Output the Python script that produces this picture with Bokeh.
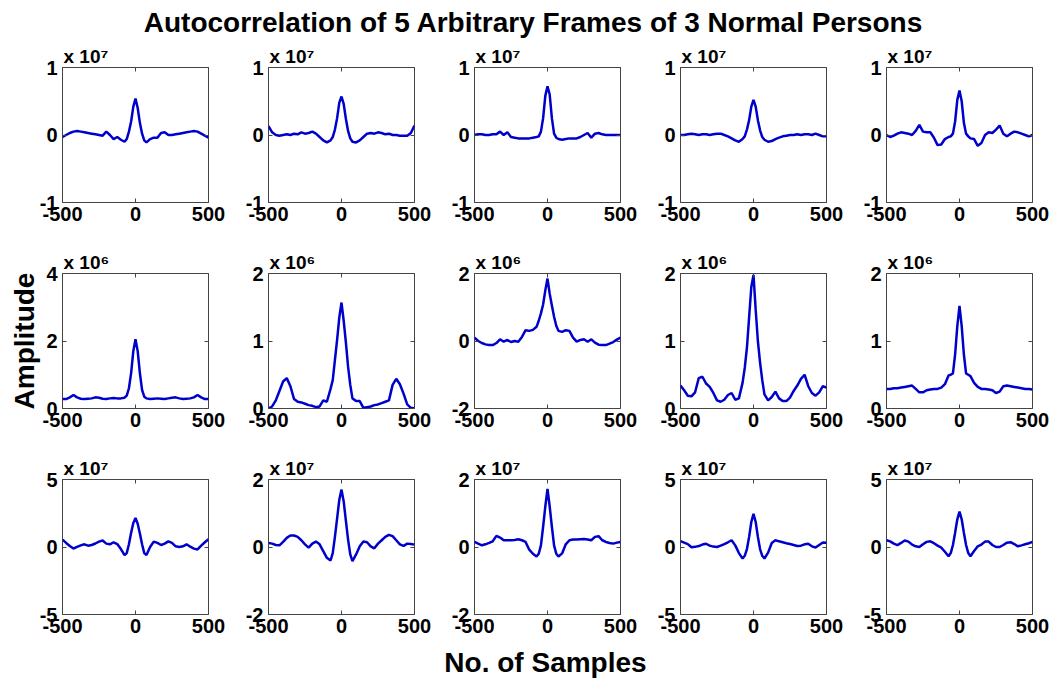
import math
from bokeh.plotting import figure
from bokeh.layouts import column, row
from bokeh.models import Label, LinearAxis, FixedTicker, Range1d, Title
from bokeh.embed import file_html
from bokeh.resources import INLINE

FONT = "Liberation Sans"
LINE_COLOR = "#0000cc"
FRAME_COLOR = "#444444"

title_text = "Autocorrelation of 5 Arbitrary Frames of 3 Normal Persons"
x_title = "No. of Samples"
y_title = "Amplitude"

# lag axis shared by all frames
lags = [-500, -475, -450, -425, -400, -375, -350, -325, -300, -275, -250, -225, -200, -175, -150, -125, -100,
        -75, -60, -45, -30, -15, 0, 15, 30, 45, 60, 75,
        100, 125, 150, 175, 200, 225, 250, 275, 300, 325, 350, 375, 400, 425, 450, 475, 500]
x_ticks = [-500, 0, 500]

row_exponents = ["7", "6", "7"]
y_limits_row1 = [(-1, 1), (-1, 1), (-1, 1), (-1, 1), (-1, 1)]
y_limits_row2 = [(0, 4), (0, 2), (-2, 2), (0, 2), (0, 2)]
y_limits_row3 = [(-5, 5), (-2, 2), (-2, 2), (-5, 5), (-5, 5)]

# values in units of 10^exponent of their row
r1c1 = [-0.03, 0.00, 0.03, 0.05, 0.06, 0.05, 0.04, 0.03, 0.02, 0.01, 0.00, -0.01, 0.05, 0.00, -0.06, -0.03, -0.07,
        -0.10, -0.06, 0.05, 0.20, 0.42, 0.54, 0.40, 0.18, 0.02, -0.08, -0.11,
        -0.06, -0.04, -0.04, 0.03, 0.04, 0.00, 0.00, 0.01, 0.02, 0.03, 0.04, 0.05, 0.06, 0.05, 0.02, -0.01, -0.04]
r1c2 = [0.13, 0.04, 0.00, -0.01, 0.00, 0.01, 0.00, 0.02, 0.01, 0.04, 0.02, 0.03, 0.05, 0.02, -0.03, -0.08, -0.11,
        -0.08, -0.03, 0.08, 0.25, 0.48, 0.57, 0.46, 0.24, 0.06, -0.05, -0.10,
        -0.11, -0.08, -0.03, 0.02, 0.03, 0.02, 0.04, 0.03, 0.01, 0.02, 0.00, 0.00, -0.01, -0.01, -0.01, 0.03, 0.14]
r1c3 = [0.00, 0.01, 0.01, 0.00, 0.00, 0.01, 0.01, 0.05, 0.00, 0.04, -0.03, -0.04, -0.05, -0.05, -0.05, -0.05, -0.04,
        -0.03, -0.02, 0.05, 0.25, 0.58, 0.72, 0.60, 0.25, 0.02, -0.04, -0.06,
        -0.07, -0.06, -0.05, -0.05, -0.05, -0.03, 0.00, 0.03, -0.04, 0.02, 0.03, 0.01, 0.00, 0.00, 0.00, 0.00, 0.00]
r1c4 = [0.00, 0.00, 0.01, 0.02, 0.01, 0.00, 0.01, 0.01, 0.00, 0.01, 0.02, 0.02, 0.00, -0.02, -0.05, -0.08, -0.10,
        -0.06, -0.02, 0.08, 0.22, 0.42, 0.52, 0.42, 0.22, 0.07, -0.03, -0.07,
        -0.10, -0.09, -0.06, -0.04, -0.02, -0.01, 0.00, 0.00, 0.01, 0.00, 0.01, 0.01, 0.00, 0.02, 0.00, -0.02, -0.02]
r1c5 = [0.00, -0.03, -0.01, 0.02, 0.04, 0.03, 0.02, 0.00, 0.06, 0.15, 0.05, 0.04, 0.04, -0.04, -0.15, -0.14, -0.06,
        -0.03, -0.02, 0.02, 0.20, 0.52, 0.66, 0.50, 0.18, 0.02, -0.02, -0.05,
        -0.06, -0.16, -0.12, 0.00, 0.04, 0.03, 0.08, 0.14, 0.02, -0.02, 0.02, 0.05, 0.04, 0.02, 0.00, -0.02, 0.00]

r2c1 = [0.28, 0.28, 0.33, 0.40, 0.33, 0.29, 0.28, 0.29, 0.30, 0.33, 0.32, 0.29, 0.28, 0.30, 0.31, 0.30, 0.30,
        0.32, 0.38, 0.60, 1.05, 1.70, 2.05, 1.70, 1.05, 0.55, 0.35, 0.30,
        0.28, 0.29, 0.30, 0.29, 0.28, 0.30, 0.32, 0.33, 0.30, 0.28, 0.29, 0.30, 0.33, 0.40, 0.33, 0.28, 0.28]
r2c2 = [0.00, 0.03, 0.12, 0.26, 0.40, 0.45, 0.33, 0.14, 0.10, 0.09, 0.07, 0.05, 0.04, 0.02, 0.03, 0.12, 0.10,
        0.29, 0.42, 0.72, 1.02, 1.35, 1.57, 1.30, 0.98, 0.62, 0.35, 0.15,
        0.11, 0.11, 0.01, 0.02, 0.03, 0.05, 0.06, 0.08, 0.10, 0.12, 0.35, 0.44, 0.36, 0.22, 0.06, 0.01, 0.00]
r2c3 = [0.10, 0.00, -0.06, -0.10, -0.12, -0.12, -0.06, 0.05, -0.02, 0.03, -0.03, 0.00, -0.02, 0.12, 0.32, 0.30, 0.33,
        0.42, 0.60, 0.82, 1.08, 1.50, 1.85, 1.40, 1.05, 0.72, 0.45, 0.30,
        0.27, 0.32, 0.30, 0.10, -0.02, 0.03, 0.05, -0.02, 0.05, -0.05, -0.11, -0.12, -0.12, -0.08, -0.03, 0.04, 0.10]
r2c4 = [0.34, 0.27, 0.19, 0.18, 0.24, 0.45, 0.47, 0.37, 0.32, 0.23, 0.12, 0.10, 0.13, 0.20, 0.23, 0.13, 0.15,
        0.38, 0.60, 0.90, 1.35, 1.80, 1.98, 1.46, 1.00, 0.68, 0.42, 0.21,
        0.12, 0.17, 0.25, 0.15, 0.11, 0.11, 0.16, 0.26, 0.34, 0.44, 0.50, 0.33, 0.23, 0.19, 0.24, 0.33, 0.31]
r2c5 = [0.29, 0.29, 0.30, 0.30, 0.31, 0.32, 0.33, 0.34, 0.29, 0.24, 0.24, 0.27, 0.28, 0.29, 0.29, 0.31, 0.36,
        0.49, 0.50, 0.52, 0.80, 1.22, 1.52, 1.22, 0.80, 0.52, 0.50, 0.48,
        0.38, 0.32, 0.29, 0.29, 0.28, 0.27, 0.23, 0.25, 0.33, 0.34, 0.33, 0.32, 0.31, 0.30, 0.29, 0.29, 0.28]

r3c1 = [0.55, 0.30, 0.08, -0.11, 0.01, 0.12, 0.20, 0.10, 0.15, 0.26, 0.40, 0.48, 0.25, 0.20, 0.35, 0.22, -0.15,
        -0.60, -0.45, 0.20, 1.05, 1.78, 2.15, 1.72, 1.00, 0.20, -0.45, -0.60,
        0.00, 0.40, 0.30, 0.15, 0.25, 0.42, 0.30, 0.05, 0.00, 0.05, 0.20, 0.02, -0.12, -0.18, 0.10, 0.35, 0.58]
r3c2 = [0.12, 0.10, 0.06, 0.05, 0.15, 0.27, 0.34, 0.34, 0.30, 0.20, 0.08, -0.02, 0.10, 0.16, 0.08, -0.12, -0.32,
        -0.40, -0.18, 0.30, 0.85, 1.40, 1.70, 1.35, 0.78, 0.22, -0.22, -0.42,
        -0.22, 0.02, 0.16, 0.14, 0.02, -0.04, 0.10, 0.20, 0.30, 0.36, 0.32, 0.20, 0.08, 0.03, 0.10, 0.09, 0.07]
r3c3 = [0.15, 0.10, 0.05, 0.08, 0.12, 0.17, 0.33, 0.28, 0.20, 0.20, 0.20, 0.21, 0.23, 0.20, 0.15, -0.08, -0.20,
        -0.28, -0.20, 0.05, 0.60, 1.20, 1.72, 1.20, 0.60, 0.05, -0.20, -0.28,
        -0.19, 0.08, 0.20, 0.22, 0.22, 0.23, 0.24, 0.22, 0.20, 0.30, 0.32, 0.20, 0.15, 0.12, 0.10, 0.13, 0.15]
r3c4 = [0.43, 0.32, 0.21, -0.02, 0.01, 0.07, 0.18, 0.24, 0.10, 0.03, 0.00, 0.10, 0.22, 0.35, 0.50, 0.12, -0.45,
        -0.85, -0.65, -0.15, 0.75, 1.85, 2.45, 1.85, 0.75, -0.15, -0.65, -0.85,
        -0.42, 0.30, 0.50, 0.42, 0.35, 0.28, 0.22, 0.15, 0.08, 0.10, 0.20, 0.24, 0.05, -0.04, 0.15, 0.33, 0.31]
r3c5 = [0.50, 0.42, 0.25, 0.14, 0.30, 0.48, 0.40, 0.18, 0.05, 0.00, 0.20, 0.38, 0.42, 0.28, 0.10, -0.05, -0.35,
        -0.68, -0.45, 0.15, 1.05, 2.05, 2.62, 2.05, 1.05, 0.15, -0.45, -0.68,
        -0.30, 0.05, 0.18, 0.40, 0.40, 0.15, 0.00, 0.00, 0.15, 0.32, 0.36, 0.22, 0.05, 0.12, 0.20, 0.28, 0.38]

series = [[r1c1, r1c2, r1c3, r1c4, r1c5],
          [r2c1, r2c2, r2c3, r2c4, r2c5],
          [r3c1, r3c2, r3c3, r3c4, r3c5]]
y_limits = [y_limits_row1, y_limits_row2, y_limits_row3]

SUPERSCRIPT = {"6": "\u2076", "7": "\u2077"}

# ---- layout constants (pixels) ----
WIN_W = 1052
FRAME_W, FRAME_H = 146, 135
PANEL_TOP = 29
TITLE_H = 38
BOTTOM_H = 35
SHIFT = 0.286  # empirical baseline correction of Label text, in em


def style_axis(ax, ticks, show_labels):
    ax.ticker = FixedTicker(ticks=ticks)
    ax.axis_line_color = None
    ax.major_tick_line_color = FRAME_COLOR
    ax.major_tick_in = 4
    ax.major_tick_out = 0
    ax.minor_tick_line_color = None
    if show_labels:
        ax.major_label_overrides = {t: str(t) for t in ticks}
        ax.major_label_text_font = FONT
        ax.major_label_text_font_style = "bold"
        ax.major_label_text_font_size = "20px"
        ax.major_label_text_color = "black"
        ax.major_label_standoff = 5
    else:
        ax.major_label_text_font_size = "0px"
        ax.major_label_text_alpha = 0
        ax.major_label_standoff = 0


def make_panel(i, j):
    lo, hi = y_limits[i][j]
    y_ticks = [lo, (lo + hi) // 2, hi]
    B = 62 if j == 0 else 30
    R = 20 if j == 4 else 30
    W = B + FRAME_W + R
    bottom = 30 if i == 2 else 42
    H = PANEL_TOP + FRAME_H + bottom
    p = figure(width=W, height=H, x_range=Range1d(-500, 500), y_range=Range1d(lo, hi),
               output_backend="svg", toolbar_location=None,
               min_border_left=B, min_border_right=R, min_border_top=PANEL_TOP,
               min_border_bottom=bottom,
               background_fill_color="white", border_fill_color="white",
               outline_line_color=FRAME_COLOR, outline_line_width=1)
    p.title = Title(text="x 10" + SUPERSCRIPT[row_exponents[i]], align="left", offset=1, standoff=2,
                    text_font=FONT, text_font_style="bold", text_font_size="19px", text_color="black")
    p.grid.visible = False
    style_axis(p.below[0], x_ticks, True)
    style_axis(p.left[0], y_ticks, True)
    p.below[0].major_label_standoff = 4
    top_ax = LinearAxis()
    style_axis(top_ax, x_ticks, False)
    p.add_layout(top_ax, "above")
    right_ax = LinearAxis()
    style_axis(right_ax, y_ticks, False)
    p.add_layout(right_ax, "right")
    if i == 1 and j == 0:
        ax = p.left[0]
        ax.axis_label = y_title
        ax.axis_label_text_font = FONT
        ax.axis_label_text_font_style = "bold"
        ax.axis_label_text_font_size = "28px"
        ax.axis_label_text_color = "black"
        ax.axis_label_standoff = 3

    p.line(lags, series[i][j], line_color=LINE_COLOR, line_width=2.5)
    return p


def strip(height, items):
    """items: (x_px, baseline_px_from_top, text, font_px, align)"""
    f = figure(width=WIN_W, height=height, x_range=Range1d(0, WIN_W), y_range=Range1d(0, height),
               output_backend="svg", toolbar_location=None, min_border=0,
               x_axis_type=None, y_axis_type=None, outline_line_color=None,
               background_fill_color="white", border_fill_color="white")
    f.grid.visible = False
    for x, base, text, size, align in items:
        f.add_layout(Label(x=x, y=height - (base - SHIFT * size), text=text, text_font=FONT,
                           text_font_style="bold", text_font_size=f"{size}px", text_color="black",
                           text_align=align, text_baseline="alphabetic"))
    return f


title_fig = strip(TITLE_H, [(533, 30, title_text, 28, "center")])
bottom_fig = strip(BOTTOM_H, [(545, 26, x_title, 28, "center")])

blocks = [title_fig]
for i in range(3):
    blocks.append(row(*[make_panel(i, j) for j in range(5)]))
blocks.append(bottom_fig)
layout = column(*blocks)

open("out.html", "w").write(file_html(layout, INLINE))
